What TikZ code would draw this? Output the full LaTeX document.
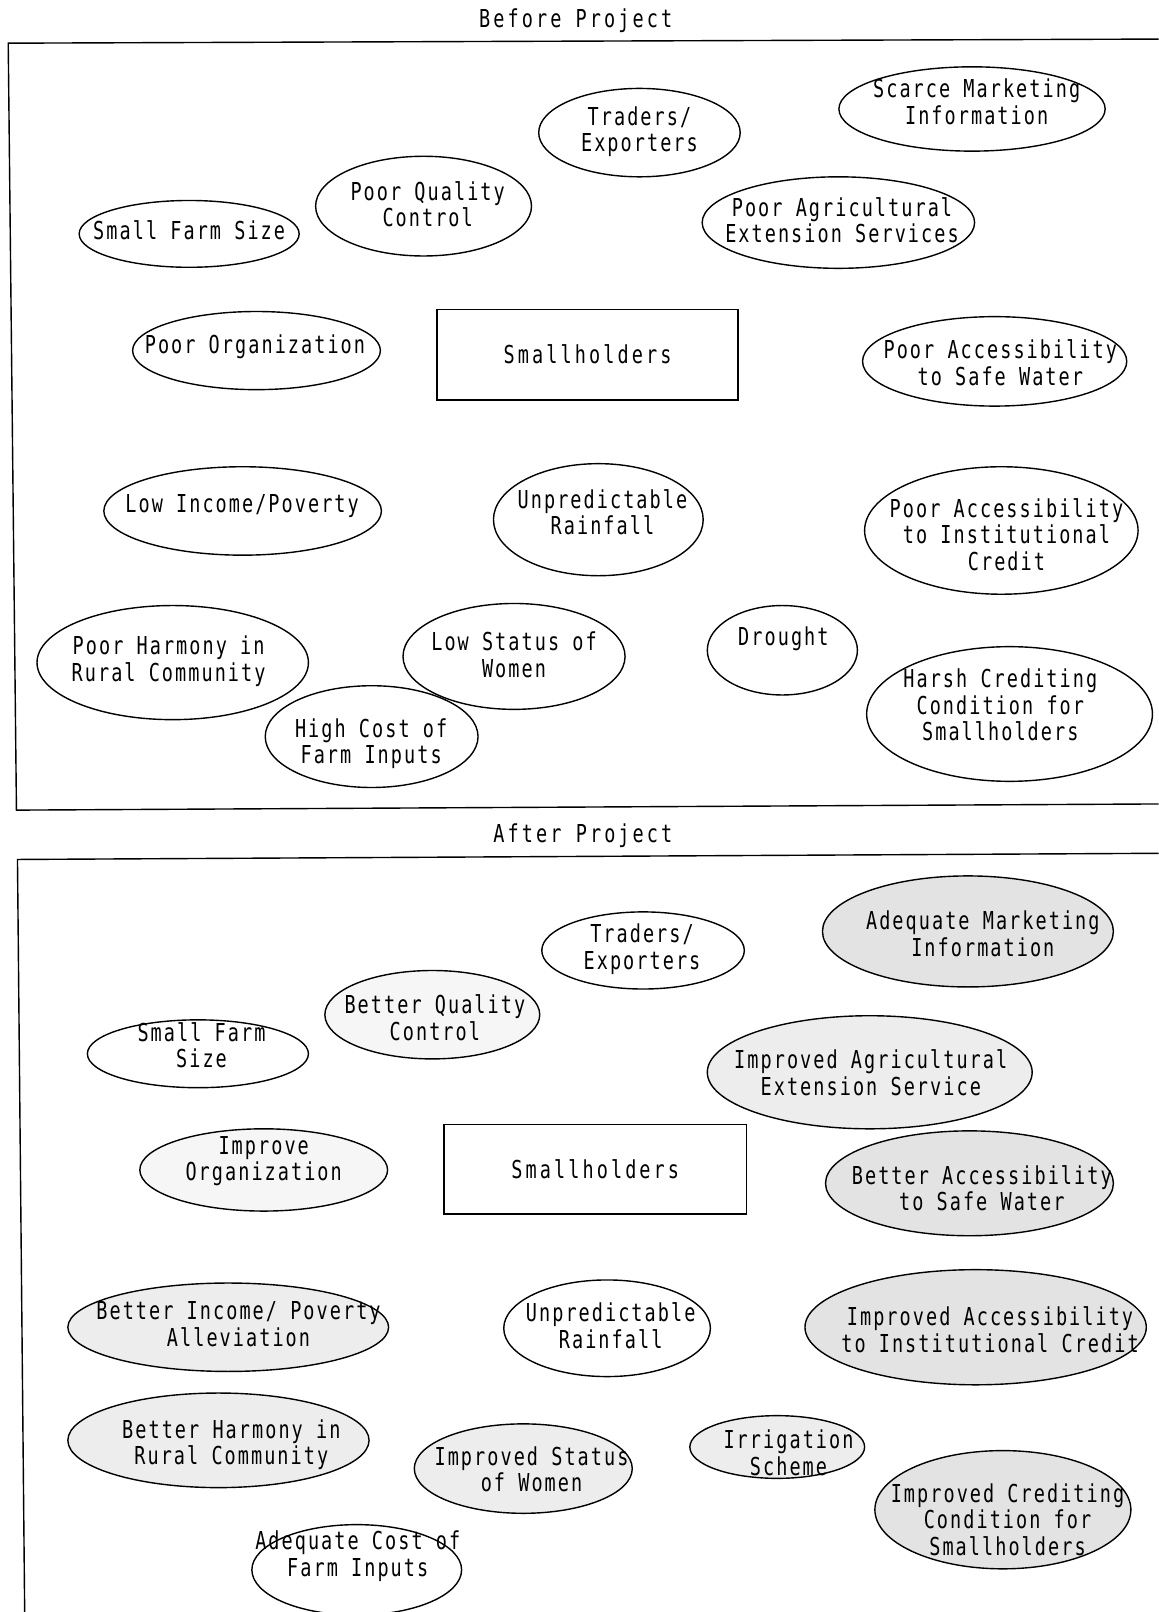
\documentclass[tikz,border=0pt]{standalone}
\usepackage{fontspec}
\usetikzlibrary{shapes.geometric}
\newfontfamily\lblfont[FakeStretch=0.75,LetterSpace=8.3]{DejaVu Sans Mono}
\newfontfamily\widefont[FakeStretch=0.75,LetterSpace=12.5]{DejaVu Sans Mono}
\newcommand\ovnode[9]{%
  \node[ovl,#6,minimum width={2.0568pt*#4},minimum height={2.0568pt*#5}] (#1) at (#2,#3) {};
  \node[txt] (#1t) at (#7,#8) {#9};}
\begin{document}
\begin{tikzpicture}[x=1.0284pt,y=-1.0284pt,
  ovl/.style={draw,ellipse,line width=1.4pt,inner sep=0pt,outer sep=0pt},
  plain/.style={},
  sA/.style={fill=gray!7},
  sB/.style={fill=gray!14},
  sC/.style={fill=gray!22},
  txt/.style={align=center,inner sep=0pt,font=\lblfont\fontsize{24.7}{26.5}\selectfont},
  ttl/.style={inner sep=0pt,font=\widefont\fontsize{24.7}{26.5}\selectfont},
  sbox/.style={draw,line width=1.4pt,inner sep=0pt,font=\widefont\fontsize{24.7}{26.5}\selectfont},
  frame/.style={line width=1.4pt}]
\useasboundingbox (0,0) rectangle (1127,1568);
% ---------- Before Project ----------
\node[ttl] (t1) at (560,20) {Before Project};
\coordinate (f1a) at (1127,38);
\coordinate (f1b) at (8,42);
\coordinate (f1c) at (16,788);
\coordinate (f1d) at (1127,782);
\draw[frame] (f1a) -- (f1b) -- (f1c) -- (f1d);
\node[sbox,minimum width={293*1.0284pt},minimum height={88*1.0284pt}] (sh1) at (571.5,345) {Smallholders};
\ovnode{scm}{945.5}{106}{129.5}{41}{plain}{950}{99}{Scarce Marketing\\Information}
\ovnode{trd}{622}{129}{98}{43}{plain}{622}{128}{Traders/\\Exporters}
\ovnode{pqc}{412}{200.5}{105}{48.5}{plain}{416}{198.5}{Poor Quality\\Control}
\ovnode{sfs}{184}{227.5}{107}{32.5}{plain}{184}{224}{Small Farm Size}
\ovnode{pae}{815.5}{216.5}{132.5}{44.5}{plain}{819}{214}{Poor Agricultural\\Extension Services}
\ovnode{por}{249.5}{341}{120.5}{38}{plain}{248}{337}{Poor Organization}
\ovnode{pas}{967.5}{351.5}{128.5}{43.5}{plain}{973}{353}{Poor Accessibility\\to Safe Water}
\ovnode{lip}{236}{497}{135}{43}{plain}{235.5}{492}{Low Income/Poverty}
\ovnode{ura}{582}{505.5}{102}{54.5}{plain}{586}{498}{Unpredictable\\Rainfall}
\ovnode{pai}{974}{516}{133}{62}{plain}{979}{520}{Poor Accessibility\\to Institutional\\Credit}
\ovnode{phr}{168}{644.5}{132}{55.5}{plain}{164}{643}{Poor Harmony in\\Rural Community}
\ovnode{lsw}{500}{638.5}{108}{51.5}{plain}{500}{637}{Low Status of\\Women}
\ovnode{dro}{761}{632.5}{73}{43.5}{plain}{762}{621}{Drought}
\ovnode{hcc}{982}{694.5}{139}{65.5}{plain}{973}{686}{Harsh Crediting\\Condition for\\Smallholders}
\ovnode{hcf}{361.5}{716.5}{103.5}{49.5}{plain}{361}{723.5}{High Cost of\\Farm Inputs}
% ---------- After Project ----------
\node[ttl] (t2) at (567,813) {After Project};
\coordinate (f2a) at (1127,830);
\coordinate (f2b) at (17,836);
\coordinate (f2c) at (24,1568);
\draw[frame] (f2a) -- (f2b) -- (f2c);
\node[sbox,minimum width={294*1.0284pt},minimum height={87*1.0284pt}] (sh2) at (579,1137.5) {Smallholders};
\ovnode{amk}{941.5}{906}{141.5}{54}{sC}{956}{908.5}{Adequate Marketing\\Information}
\ovnode{trb}{625.5}{924.5}{98.5}{37.5}{plain}{624.5}{923.5}{Traders/\\Exporters}
\ovnode{bqc}{420.5}{987}{104.5}{43}{sA}{423}{990}{Better Quality\\Control}
\ovnode{sfb}{192.5}{1025}{107.5}{33}{plain}{196}{1016.5}{Small Farm\\Size}
\ovnode{iae}{846}{1043}{158}{55}{sB}{847}{1043.5}{Improved Agricultural\\Extension Service}
\ovnode{ior}{256.5}{1138}{120.5}{40}{sA}{256.5}{1129.5}{Improve\\Organization}
\ovnode{bas}{943}{1151}{140}{51}{sC}{955}{1156}{Better Accessibility\\to Safe Water}
\ovnode{bip}{222}{1291}{156}{43}{sB}{232}{1288}{Better Income/ Poverty\\Alleviation}
\ovnode{urb}{590.5}{1292}{100.5}{47}{plain}{594}{1289.5}{Unpredictable\\Rainfall}
\ovnode{iai}{949}{1291}{166}{56}{sC}{963}{1293.5}{Improved Accessibility\\to Institutional Credit}
\ovnode{bhr}{212.5}{1401}{146.5}{46}{sB}{225}{1405}{Better Harmony in\\Rural Community}
\ovnode{isw}{509}{1428.5}{106}{43.5}{sB}{517}{1429}{Improved Status\\of Women}
\ovnode{irr}{756}{1407.5}{85}{30.5}{sB}{767}{1413}{Irrigation\\Scheme}
\ovnode{icc}{975.5}{1468.5}{124.5}{57.5}{sC}{980}{1478}{Improved Crediting\\Condition for\\Smallholders}
\ovnode{acf}{347}{1527}{102}{44}{plain}{348}{1513.5}{Adequate Cost of\\Farm Inputs}
\end{tikzpicture}
\end{document}
